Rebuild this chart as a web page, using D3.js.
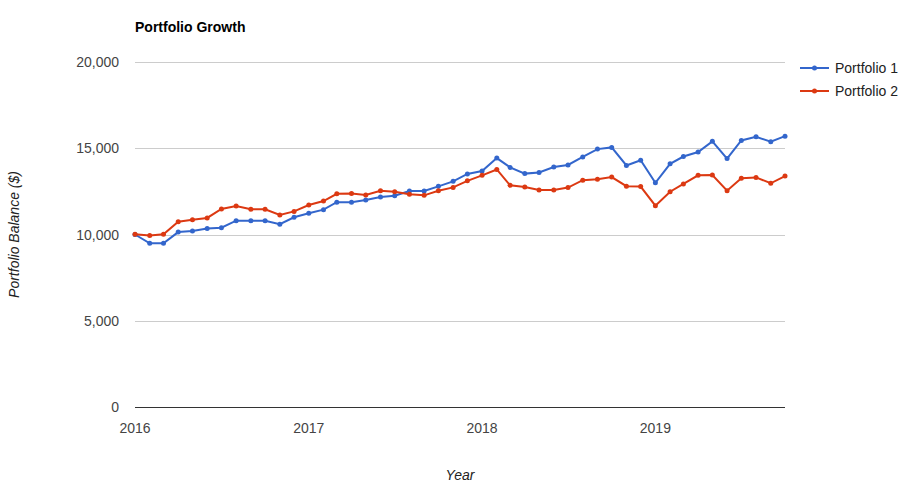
<!DOCTYPE html>
<html>
<head>
    <title>Portfolio Growth</title>
    <script src="https://cdn.jsdelivr.net/npm/d3@7"></script>
</head>
<style>
body { margin: 0; background: #fff; }
text { font-family: "Liberation Sans", Arial, sans-serif; }
</style>
<body>
<script>

// monthly balances, Jan 2016 .. Oct 2019
var startYear = 2016, startMonth = 0;
var portfolio1 = [10000, 9490, 9490, 10140, 10200, 10350, 10390, 10800, 10800, 10800,
                  10600, 11000, 11230, 11440, 11870, 11870, 12000, 12170, 12250, 12520,
                  12520, 12790, 13080, 13510, 13680, 14430, 13890, 13530, 13600, 13910,
                  14030, 14500, 14950, 15050, 14000, 14300, 13000, 14100, 14520, 14780,
                  15400, 14400, 15450, 15660, 15380, 15700];
var portfolio2 = [10010, 9940, 10010, 10740, 10860, 10960, 11480, 11650, 11460, 11460,
                  11130, 11340, 11710, 11940, 12360, 12370, 12290, 12540, 12480, 12330,
                  12270, 12540, 12730, 13110, 13430, 13770, 12850, 12750, 12580, 12580,
                  12720, 13150, 13200, 13330, 12800, 12780, 11670, 12480, 12930, 13430,
                  13450, 12540, 13260, 13310, 12970, 13390];
var seriesNames = ["Portfolio 1", "Portfolio 2"];
var seriesColors = ["#3366cc", "#dc3912"];
var yTicks = [0, 5000, 10000, 15000, 20000];
var xTickYears = [2016, 2017, 2018, 2019];

var w = 909, h = 497;
var plotL = 135, plotR = 785, plotT = 62, plotB = 407;

var svg = d3.select("body").append("svg")
            .attr("width", w)
            .attr("height", h);

var dates = portfolio1.map(function(d, i) { return new Date(startYear, startMonth + i, 1); });

var xScale = d3.scaleTime()
               .domain([dates[0], dates[dates.length - 1]])
               .range([plotL, plotR]);
var yScale = d3.scaleLinear()
               .domain([0, 20000])
               .range([plotB, plotT]);

// gridlines
svg.selectAll("line.grid")
    .data(yTicks)
    .enter()
    .append("line")
    .attr("x1", plotL)
    .attr("x2", plotR)
    .attr("y1", function(d) { return Math.round(yScale(d)) + 0.5; })
    .attr("y2", function(d) { return Math.round(yScale(d)) + 0.5; })
    .attr("stroke", function(d) { return d === 0 ? "#333" : "#ccc"; })
    .attr("stroke-width", 1);

svg.selectAll("text.ytick")
    .data(yTicks)
    .enter()
    .append("text")
    .text(d3.format(","))
    .attr("x", plotL - 16)
    .attr("y", function(d) { return yScale(d) + 5; })
    .attr("text-anchor", "end")
    .attr("font-size", "14px")
    .attr("fill", "#444");

svg.selectAll("text.xtick")
    .data(xTickYears)
    .enter()
    .append("text")
    .text(function(d) { return d; })
    .attr("x", function(d) { return xScale(new Date(d, 0, 1)); })
    .attr("y", plotB + 26)
    .attr("text-anchor", "middle")
    .attr("font-size", "14px")
    .attr("fill", "#444");

var line = d3.line()
             .x(function(d, i) { return xScale(dates[i]); })
             .y(function(d) { return yScale(d); });

[portfolio1, portfolio2].forEach(function(values, s) {
    svg.append("path")
        .attr("d", line(values))
        .attr("fill", "none")
        .attr("stroke", seriesColors[s])
        .attr("stroke-width", 2);
    svg.selectAll("circle.s" + s)
        .data(values)
        .enter()
        .append("circle")
        .attr("cx", function(d, i) { return xScale(dates[i]); })
        .attr("cy", function(d) { return yScale(d); })
        .attr("r", 2.5)
        .attr("fill", seriesColors[s]);
});

// title and axis titles
svg.append("text")
    .text("Portfolio Growth")
    .attr("x", plotL)
    .attr("y", 32)
    .attr("font-size", "14px")
    .attr("font-weight", "bold")
    .attr("fill", "#000");

svg.append("text")
    .text("Year")
    .attr("x", (plotL + plotR) / 2)
    .attr("y", 480)
    .attr("text-anchor", "middle")
    .attr("font-size", "14px")
    .attr("font-style", "italic")
    .attr("fill", "#222");

svg.append("text")
    .text("Portfolio Balance ($)")
    .attr("transform", "translate(19," + (plotT + plotB) / 2 + ") rotate(-90)")
    .attr("text-anchor", "middle")
    .attr("font-size", "14px")
    .attr("font-style", "italic")
    .attr("fill", "#222");

// legend
var legend = svg.selectAll("g.legend")
    .data(seriesNames)
    .enter()
    .append("g")
    .attr("transform", function(d, i) { return "translate(800," + (68 + i * 23) + ")"; });
legend.append("line")
    .attr("x1", 0).attr("x2", 29)
    .attr("stroke", function(d, i) { return seriesColors[i]; })
    .attr("stroke-width", 2);
legend.append("circle")
    .attr("cx", 14.5).attr("r", 2.5)
    .attr("fill", function(d, i) { return seriesColors[i]; });
legend.append("text")
    .text(function(d) { return d; })
    .attr("x", 35)
    .attr("y", 5)
    .attr("font-size", "14px")
    .attr("fill", "#222");

</script>
</body>
</html>
